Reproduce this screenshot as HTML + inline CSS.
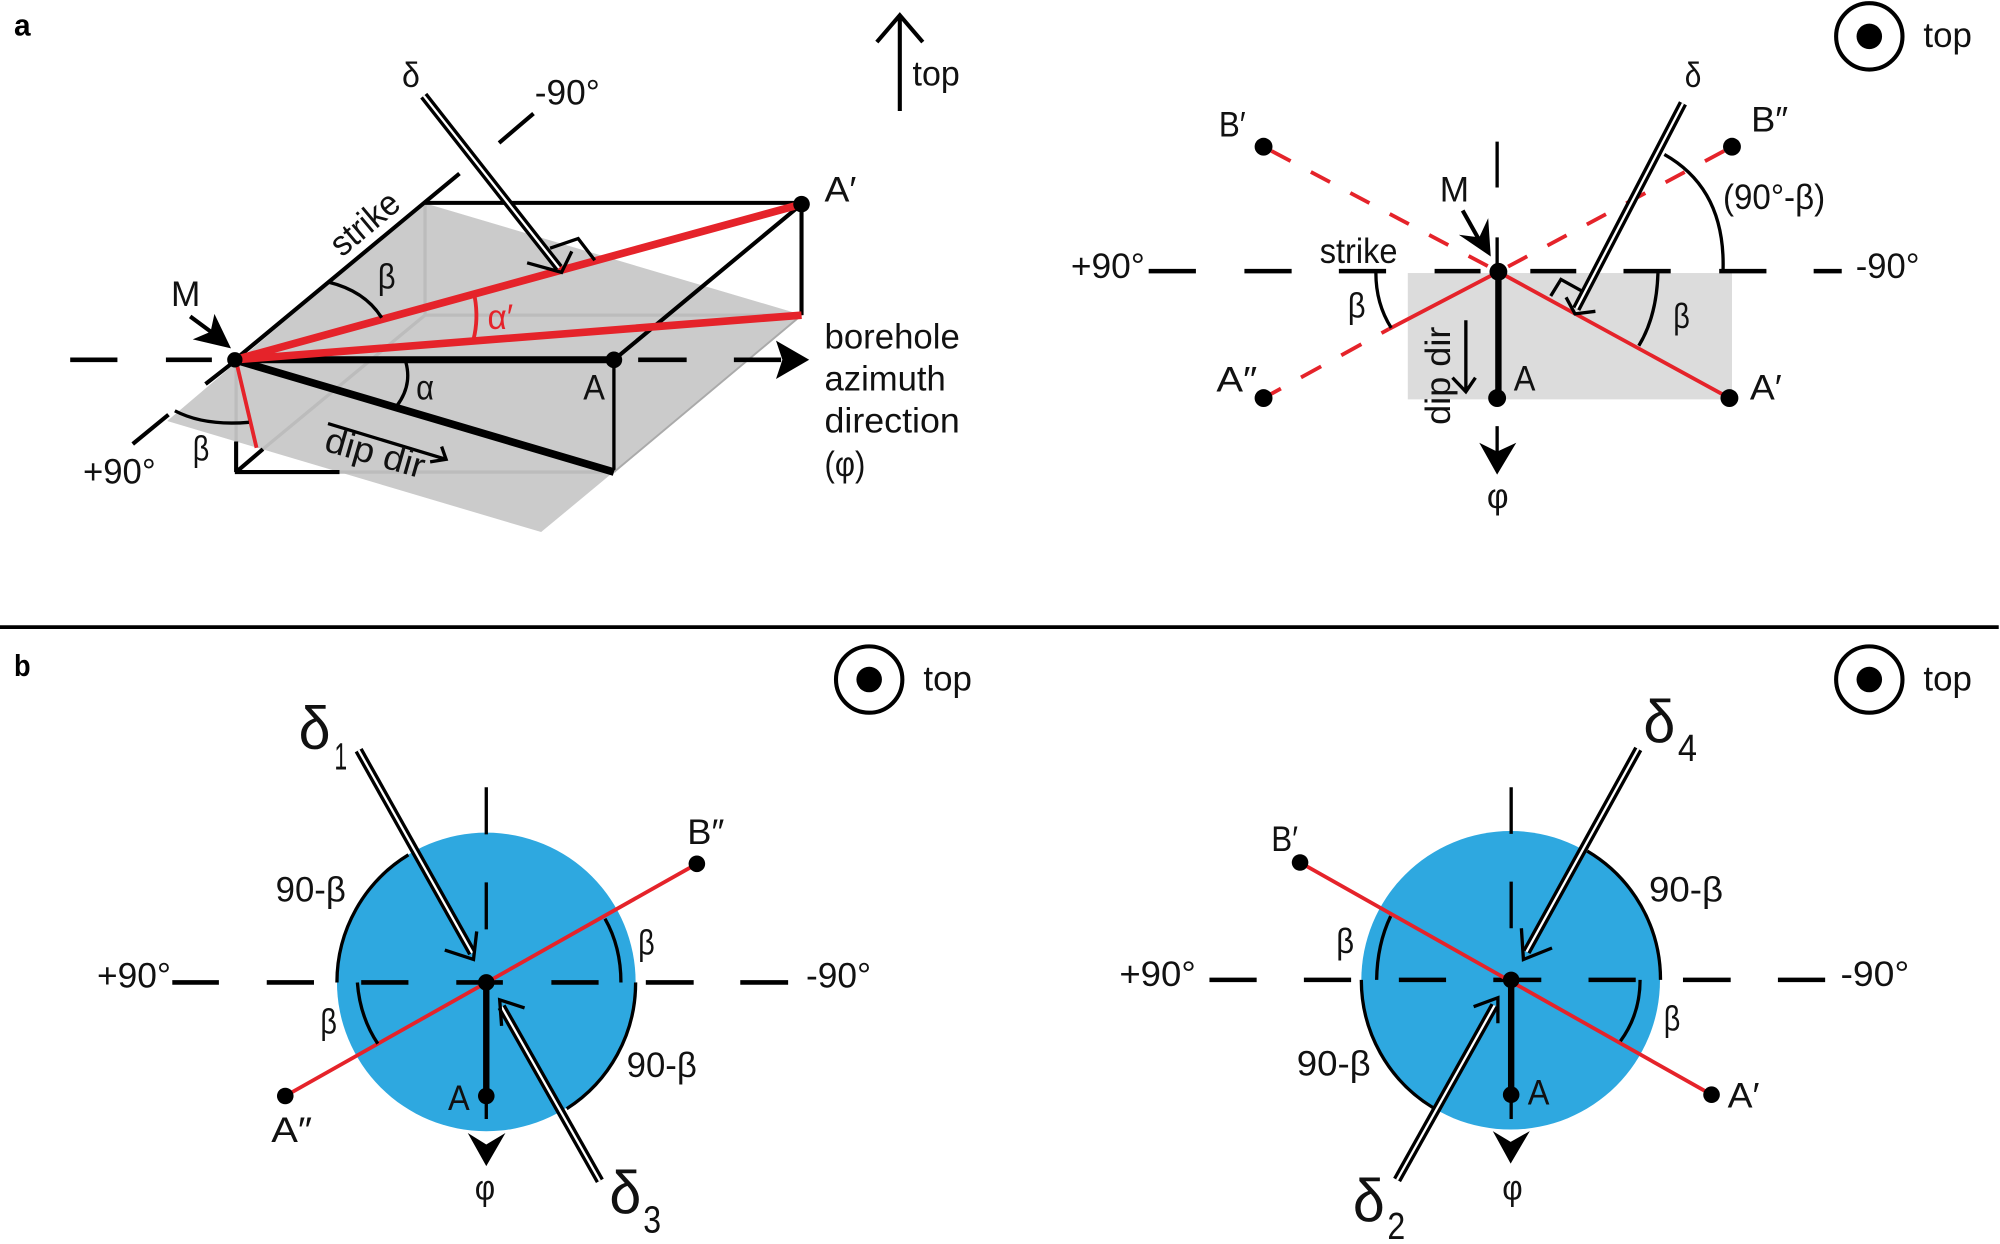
<!DOCTYPE html>
<html><head><meta charset="utf-8"><style>
html,body{margin:0;padding:0;background:#fff;width:2000px;height:1244px;overflow:hidden}
svg{display:block}
text{font-family:"Liberation Sans",sans-serif;font-size:27.5px;fill:#111}
.b{font-weight:bold;font-size:24px;fill:#000}
.r{fill:#e5232a}
.k{stroke:#000;fill:none;stroke-width:2.6}
.t{stroke:#000;fill:none;stroke-width:3.2}
.dash{stroke:#000;fill:none;stroke-width:3.6}
.red{stroke:#e5232a;fill:none;stroke-width:3}
.dbl1{stroke:#000;fill:none;stroke-width:7}
.dbl2{stroke:#fff;fill:none;stroke-width:1.8}
.g{stroke:#bcbcbc;fill:none;stroke-width:2.6}
</style></head><body>
<svg xmlns="http://www.w3.org/2000/svg" width="2000" height="1244" viewBox="0 0 1567 975" preserveAspectRatio="none">
<rect width="1567" height="975" fill="#fff"/>

<!-- Panel a left -->
<polygon points="332,159 629,247 424,417 131,330" fill="#cbcbcb"/>
<path d="M333 160V247H628M185 282V346M266 370H481M206 352L333 247" class="g"/>
<path d="M185 346V370M185 370L206 352M184 370H266" class="t"/>
<path d="M333 159H628M628 160V247M628 160L481 282" class="t"/>
<path d="M481 282V370" class="k"/>
<path d="M481 370L628 247" stroke="#aaa" stroke-width="1.5" fill="none"/>
<path d="M184 282L360 136M391 112L418 89M104 348L132 325M161 301L184 283" class="t"/>
<path d="M55 282H92M130 282H166M500 282H538M575 282H612" class="dash"/>
<polygon points="634,282 608,267 613,282 608,297" fill="#000"/>
<path d="M184 282H481" stroke="#000" stroke-width="5.5" fill="none"/>
<path d="M184 282L481 370" stroke="#000" stroke-width="6" fill="none"/>
<path d="M184 282L628 160M184 282L628 247" stroke="#e5232a" stroke-width="6" fill="none"/>
<path d="M185 283L201 351" class="red"/>
<circle cx="184" cy="282" r="6"/><circle cx="481" cy="282" r="6.5"/><circle cx="628" cy="160" r="6.5"/>
<path d="M318 284Q323 302 311 318" class="k"/>
<path d="M372 233Q375 250 371 266" class="red"/>
<path d="M257 221Q286 228 299 249" class="k"/>
<path d="M137 322Q160 334 195 331" class="k"/>
<path d="M431 194.500L453 187L466 204" class="k"/>
<path d="M332 75L438 210" class="dbl1"/><path d="M332 75L438 210" class="dbl2"/>
<path d="M413 206L440 213.500L448 197" class="k"/>
<path d="M257 332L349.500 360M346 350L349.500 360L337 362" class="k"/>
<path d="M149 248L172 265" class="t"/>
<polygon points="181,273 168,246 165,260 151,266" fill="#000"/>
<path d="M705 87V12M687 33L705 12L723 33" class="t"/>

<text class="b" x="11" y="28" textLength="13" lengthAdjust="spacingAndGlyphs">a</text>
<text x="715" y="67" textLength="37" lengthAdjust="spacingAndGlyphs">top</text>
<text x="315" y="68" textLength="14" lengthAdjust="spacingAndGlyphs">δ</text>
<text x="419" y="82" textLength="51" lengthAdjust="spacingAndGlyphs">-90°</text>
<text x="646" y="158" textLength="25" lengthAdjust="spacingAndGlyphs">A′</text>
<text transform="translate(268,202) rotate(-40)" textLength="62" lengthAdjust="spacingAndGlyphs">strike</text>
<text x="296" y="226" textLength="14" lengthAdjust="spacingAndGlyphs">β</text>
<text class="r" x="382" y="258" textLength="20" lengthAdjust="spacingAndGlyphs">α′</text>
<text x="134" y="240" textLength="23" lengthAdjust="spacingAndGlyphs">M</text>
<text x="326" y="313" textLength="14" lengthAdjust="spacingAndGlyphs">α</text>
<text x="457" y="313" textLength="17" lengthAdjust="spacingAndGlyphs">A</text>
<text x="646" y="273" textLength="106" lengthAdjust="spacingAndGlyphs">borehole</text>
<text x="646" y="306" textLength="95" lengthAdjust="spacingAndGlyphs">azimuth</text>
<text x="646" y="339" textLength="106" lengthAdjust="spacingAndGlyphs">direction</text>
<text x="646" y="373" textLength="32" lengthAdjust="spacingAndGlyphs">(φ)</text>
<text x="151" y="361" textLength="13" lengthAdjust="spacingAndGlyphs">β</text>
<text x="65" y="379" textLength="57" lengthAdjust="spacingAndGlyphs">+90°</text>
<text transform="translate(253,353) rotate(16)" textLength="80" lengthAdjust="spacingAndGlyphs">dip dir</text>

<!-- Panel a right -->
<rect x="1103" y="214" width="254" height="99" fill="#dcdcdc"/>
<path d="M900 212.500H937M975 212.500H1012M1049 212.500H1086M1124 212.500H1160M1199 212.500H1235M1272 212.500H1309M1347 212.500H1384M1421 212.500H1443" class="dash"/>
<path d="M1173 111V147M1173 186V214" class="k"/>
<path d="M1174 214V312" stroke="#000" stroke-width="5" fill="none"/>
<path d="M1174 213L1355 312M1174 213L1088 258" class="red"/>
<path d="M990 115L1174 213M1357 115L1174 213" class="red" stroke-dasharray="17 18" stroke-dashoffset="-7"/>
<path d="M990 312L1088 258" class="red" stroke-dasharray="18 18" stroke-dashoffset="2.500"/>
<circle cx="1174" cy="213" r="7"/><circle cx="1173" cy="312" r="7"/><circle cx="1355" cy="312" r="7"/><circle cx="990" cy="312" r="7"/><circle cx="990" cy="115" r="7"/><circle cx="1357" cy="115" r="7"/>
<path d="M1215 232L1223 219L1241 229" class="k"/>
<path d="M1318.600 81L1235 242" class="dbl1"/><path d="M1318.600 81L1235 242" class="dbl2"/>
<path d="M1227 233L1234 246L1250 244" class="k"/>
<path d="M1304 121Q1352 148 1350 212" class="k"/>
<path d="M1299 214Q1298 248 1284 271" class="k"/>
<path d="M1078 214Q1078 238 1090 257" class="k"/>
<path d="M1148.500 251V306M1138 296L1148.500 307L1156 296" class="k"/>
<path d="M1173 334V355" class="k"/>
<polygon points="1159,347 1173,372 1188,347 1173,354" fill="#000"/>
<path d="M1146 165L1160 190" class="t"/>
<polygon points="1168,201 1166,171 1159,186 1143,184" fill="#000"/>
<circle cx="1464.600" cy="28.500" r="26" fill="none" stroke="#000" stroke-width="3.200"/><circle cx="1464.600" cy="28.500" r="10"/>

<text x="1507" y="37" textLength="38" lengthAdjust="spacingAndGlyphs">top</text>
<text x="955" y="107" textLength="21" lengthAdjust="spacingAndGlyphs">B′</text>
<text x="953" y="307" textLength="32" lengthAdjust="spacingAndGlyphs">A″</text>
<text x="1186" y="306" textLength="17" lengthAdjust="spacingAndGlyphs">A</text>
<text x="1371" y="313" textLength="25" lengthAdjust="spacingAndGlyphs">A′</text>
<text x="1372" y="103" textLength="29" lengthAdjust="spacingAndGlyphs">B″</text>
<text x="1320" y="68" textLength="13" lengthAdjust="spacingAndGlyphs">δ</text>
<text x="1128" y="158" textLength="23" lengthAdjust="spacingAndGlyphs">M</text>
<text x="1350" y="164" textLength="80" lengthAdjust="spacingAndGlyphs">(90°-β)</text>
<text x="839" y="218" textLength="58" lengthAdjust="spacingAndGlyphs">+90°</text>
<text x="1454" y="218" textLength="50" lengthAdjust="spacingAndGlyphs">-90°</text>
<text x="1034" y="206" textLength="61" lengthAdjust="spacingAndGlyphs">strike</text>
<text x="1056" y="249" textLength="14" lengthAdjust="spacingAndGlyphs">β</text>
<text x="1311" y="257" textLength="13" lengthAdjust="spacingAndGlyphs">β</text>
<text x="1165" y="398" textLength="17" lengthAdjust="spacingAndGlyphs">φ</text>
<text transform="translate(1136,333) rotate(-90)" textLength="77" lengthAdjust="spacingAndGlyphs">dip dir</text>

<!-- Divider -->
<path d="M0 491.500H1566" stroke="#000" stroke-width="3" fill="none"/>
<text class="b" x="11" y="530" textLength="13" lengthAdjust="spacingAndGlyphs">b</text>

<!-- Panel b left -->
<circle cx="381" cy="769.600" r="117" fill="#2ea8e0"/>
<path d="M135 770H171.500M209 770H246M283 770H320M357.500 770H394M432 770H469M506 770H543.500M580 770H617.500" class="dash"/>
<path d="M381 617V654M381 691.600V728.400M381 859V877" class="k"/>
<path d="M381 770V859" stroke="#000" stroke-width="5" fill="none"/>
<path d="M223.500 859L546 677" class="red"/>
<circle cx="381" cy="770" r="6.500"/><circle cx="381" cy="859" r="6.500"/><circle cx="223.500" cy="859" r="6.500"/><circle cx="546" cy="677" r="6.500"/>
<path d="M264 770A117 117 0 0 1 320 670M498 770A117 117 0 0 1 444 869" class="k"/>
<path d="M486.500 770Q486.500 742 474 720M280 770Q282 797 296 818" class="k"/>
<polygon points="366.500,888 381,914 396,888 381,897" fill="#000"/>
<path d="M281 588L370 747" class="dbl1"/><path d="M281 588L370 747" class="dbl2"/>
<path d="M348.500 744.600L371 752L373.500 730" class="k"/>
<path d="M470 925.500L393 789" class="dbl1"/><path d="M470 925.500L393 789" class="dbl2"/>
<path d="M411 790L391.500 783.600L393 804" class="k"/>
<circle cx="681" cy="532.600" r="26" fill="none" stroke="#000" stroke-width="3.200"/><circle cx="681" cy="532.600" r="10"/>

<text x="723.500" y="541" textLength="38" lengthAdjust="spacingAndGlyphs">top</text>
<text style="font-size:47px" x="234" y="587" textLength="25" lengthAdjust="spacingAndGlyphs">δ</text>
<text style="font-size:30px" x="262" y="603" textLength="10" lengthAdjust="spacingAndGlyphs">1</text>
<text style="font-size:47px" x="477.500" y="951" textLength="25" lengthAdjust="spacingAndGlyphs">δ</text>
<text style="font-size:30px" x="504" y="966" textLength="14" lengthAdjust="spacingAndGlyphs">3</text>
<text x="216" y="706.500" textLength="55" lengthAdjust="spacingAndGlyphs">90-β</text>
<text x="500" y="748" textLength="13" lengthAdjust="spacingAndGlyphs">β</text>
<text x="251" y="810" textLength="13" lengthAdjust="spacingAndGlyphs">β</text>
<text x="491" y="844" textLength="55" lengthAdjust="spacingAndGlyphs">90-β</text>
<text x="76" y="774" textLength="58" lengthAdjust="spacingAndGlyphs">+90°</text>
<text x="631.500" y="774" textLength="51" lengthAdjust="spacingAndGlyphs">-90°</text>
<text x="351" y="870" textLength="17" lengthAdjust="spacingAndGlyphs">A</text>
<text x="212.500" y="895" textLength="32" lengthAdjust="spacingAndGlyphs">A″</text>
<text x="538.500" y="661.500" textLength="29" lengthAdjust="spacingAndGlyphs">B″</text>
<text x="372" y="940" textLength="16" lengthAdjust="spacingAndGlyphs">φ</text>

<!-- Panel b right -->
<circle cx="1183.600" cy="768.300" r="117" fill="#2ea8e0"/>
<path d="M947.600 768H984.600M1021.600 768H1058.600M1096 768H1133M1170 768H1207.600M1244.600 768H1281.600M1318.600 768H1356M1393 768H1430" class="dash"/>
<path d="M1184 617V653.600M1184 691V727.500M1184 858V877" class="k"/>
<path d="M1184 768V858" stroke="#000" stroke-width="5" fill="none"/>
<path d="M1018.600 676L1341 858" class="red"/>
<circle cx="1184" cy="768" r="6.500"/><circle cx="1184" cy="858" r="6.500"/><circle cx="1018.600" cy="676" r="6.500"/><circle cx="1341" cy="858" r="6.500"/>
<path d="M1301 768A117 117 0 0 0 1243.600 667M1066.600 768A117 117 0 0 0 1122.600 868" class="k"/>
<path d="M1078.600 768Q1079 740 1089.600 718M1285 768Q1285 795 1269.600 816" class="k"/>
<polygon points="1169.600,886.500 1183.600,912 1198.600,886.500 1183.600,895" fill="#000"/>
<path d="M1283.600 587L1196 746" class="dbl1"/><path d="M1283.600 587L1196 746" class="dbl2"/>
<path d="M1216 743L1193.600 752L1192 727.500" class="k"/>
<path d="M1094.600 924.800L1171 788" class="dbl1"/><path d="M1094.600 924.800L1171 788" class="dbl2"/>
<path d="M1154.600 789L1173.600 782L1173.600 802" class="k"/>
<circle cx="1464.600" cy="532.600" r="26" fill="none" stroke="#000" stroke-width="3.200"/><circle cx="1464.600" cy="532.600" r="10"/>

<text x="1507" y="541" textLength="38" lengthAdjust="spacingAndGlyphs">top</text>
<text style="font-size:47px" x="1287.600" y="582" textLength="25" lengthAdjust="spacingAndGlyphs">δ</text>
<text style="font-size:30px" x="1314.600" y="596.500" textLength="15" lengthAdjust="spacingAndGlyphs">4</text>
<text style="font-size:47px" x="1060" y="957.500" textLength="25" lengthAdjust="spacingAndGlyphs">δ</text>
<text style="font-size:30px" x="1087" y="971" textLength="14" lengthAdjust="spacingAndGlyphs">2</text>
<text x="996" y="667" textLength="21" lengthAdjust="spacingAndGlyphs">B′</text>
<text x="1353.600" y="868" textLength="25" lengthAdjust="spacingAndGlyphs">A′</text>
<text x="1197" y="865.500" textLength="17" lengthAdjust="spacingAndGlyphs">A</text>
<text x="1177" y="940" textLength="16" lengthAdjust="spacingAndGlyphs">φ</text>
<text x="1292" y="706.500" textLength="58" lengthAdjust="spacingAndGlyphs">90-β</text>
<text x="1047" y="747" textLength="14" lengthAdjust="spacingAndGlyphs">β</text>
<text x="1303.600" y="807.500" textLength="13" lengthAdjust="spacingAndGlyphs">β</text>
<text x="1016" y="843" textLength="58" lengthAdjust="spacingAndGlyphs">90-β</text>
<text x="877" y="772.700" textLength="60" lengthAdjust="spacingAndGlyphs">+90°</text>
<text x="1442" y="772.700" textLength="54" lengthAdjust="spacingAndGlyphs">-90°</text>
</svg>
</body></html>
